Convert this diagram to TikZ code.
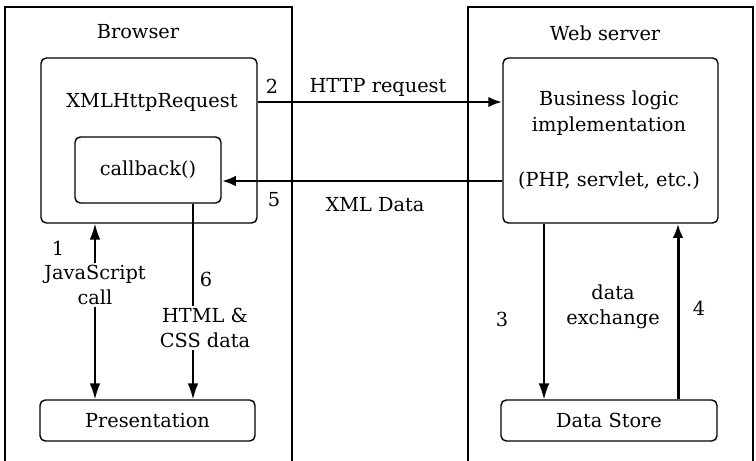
\documentclass[tikz,border=0pt]{standalone}
\usepackage{fontspec}
\setmainfont{DejaVu Serif}
\usepackage{tikz}
\usetikzlibrary{positioning,arrows.meta,calc}

\newcommand{\pxu}{0.02cm}

\tikzset{
  box/.style={draw, rounded corners=3pt, line width=0.8pt, inner sep=0pt},
  lbl/.style={align=center, inner sep=1pt},
  link/.style={line width=0.9pt, -{Latex[length=9pt,width=6pt]}},
  heavy/.style={line width=1.7pt, -{Latex[length=8pt,width=6pt]}},
}

\begin{document}
\begin{tikzpicture}[x=\pxu, y=-\pxu, font=\fontsize{11}{14.5}\selectfont]
  \useasboundingbox (0,0) rectangle (756,460);

  % outer frames
  \draw[line width=0.8pt] (5,470) -- (5,7) -- (292,7) -- (292,470);
  \draw[line width=0.8pt] (468,470) -- (468,7) -- (753,7) -- (753,470);
  \node (browser) at (138,32) {Browser};
  \node (server) at (605,33) {Web server};

  % browser side
  \node[box, minimum width=216*\pxu, minimum height=165*\pxu] (xhr) at (149,140.5) {};
  \node (xhrtext) at (152,102) {XMLHttpRequest};
  \node[box, minimum width=146*\pxu, minimum height=66*\pxu] (cb) at (148,170) {callback()};
  \node[box, minimum width=215*\pxu, minimum height=41*\pxu] (pres) at (147.5,420.5) {Presentation};

  % server side
  \node[box, minimum width=215*\pxu, minimum height=165*\pxu] (biz) at (610.5,140.5) {};
  \node[lbl] (biztext) at (609,113) {Business logic\\implementation};
  \node (php) at (609,181) {(PHP, servlet, etc.)};
  \node[box, minimum width=216*\pxu, minimum height=41*\pxu] (store) at (609,420.5) {Data Store};

  % labels
  \node (n1) at (58,248) {1};
  \node[lbl] (js) at (95,285) {JavaScript\\call};
  \node (n2) at (272,86) {2};
  \node (req) at (378,87) {HTTP request};
  \node (n3) at (502,319) {3};
  \node[lbl] (dx) at (613,307) {data\\exchange};
  \node (n4) at (699,308) {4};
  \node (n5) at (274,200) {5};
  \node (resp) at (375,205) {XML Data};
  \node (n6) at (206,279) {6};
  \node[lbl] (html) at (205,328) {HTML \&\\CSS data};

  \coordinate (l6) at (193,0);
  \coordinate (l3) at (544,0);
  \coordinate (l4) at (678,0);

  % connectors
  \draw[heavy] (xhr.east |- xhrtext) -- (biz.west |- xhrtext);
  \draw[heavy] (biz.west |- php) -- (cb.east |- php);
  \draw[link] (js.north) -- (js.north |- xhr.south);
  \draw[link] (js.south) -- (js.south |- pres.north);
  \draw[line width=0.9pt] (cb.south -| l6) -- (html.north -| l6);
  \draw[link] (html.south -| l6) -- (pres.north -| l6);
  \draw[link, line width=0.7pt] (biz.south -| l3) -- (store.north -| l3);
  \draw[heavy] (store.north -| l4) -- (biz.south -| l4);
\end{tikzpicture}
\end{document}
